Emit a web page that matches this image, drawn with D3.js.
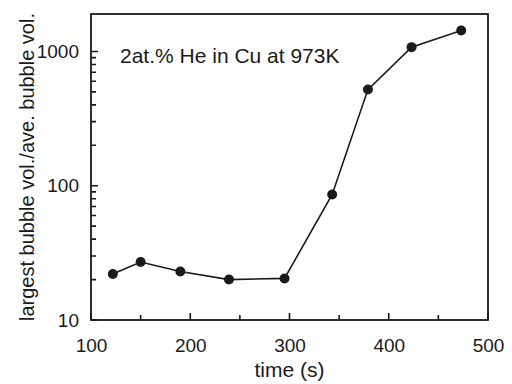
<!DOCTYPE html>
<html>
<head>
<meta charset="utf-8">
<script src="https://cdn.jsdelivr.net/npm/d3@7"></script>
<style>
  body { margin: 0; background: #fff; }
  svg text { font-family: "Liberation Sans", Arial, sans-serif; fill: #1a1a1a; }
</style>
</head>
<body>
<div class="chartWrapper"></div>
<script>
const width = 512, height = 384;
const margin = { left: 91, right: 24, top: 14, bottom: 64 };

// data
const times = [122, 150, 190, 239, 295, 343, 379, 423, 473];
const ratios = [22, 27, 23, 20, 20.4, 86, 520, 1076, 1430];

const xMajorTicks = [100, 200, 300, 400, 500];
const xMinorTicks = [150, 250, 350, 450];
const yMajorTicks = [10, 100, 1000];
const yMinorTicks = [20, 30, 40, 50, 60, 70, 80, 90, 200, 300, 400, 500, 600, 700, 800, 900];

const annotation = "2at.% He in Cu at 973K";
const xTitle = "time (s)";
const yTitle = "largest bubble vol./ave. bubble vol.";

const svg = d3.select(".chartWrapper").append("svg")
  .attr("width", width)
  .attr("height", height);

const x = d3.scaleLinear().domain([100, 500]).range([margin.left, width - margin.right]);
const y = d3.scaleLog().domain([10, 1900]).range([height - margin.bottom, margin.top]);

const plotBottom = height - margin.bottom;
const stroke = "#1a1a1a";

// tick labels from d3 axes
svg.append("g")
  .attr("transform", `translate(0,${plotBottom})`)
  .call(d3.axisBottom(x).tickValues(xMajorTicks).tickSize(0).tickPadding(19).tickFormat(d3.format("d")))
  .call(g => g.select(".domain").remove())
  .call(g => g.selectAll("text").attr("font-size", 19));

svg.append("g")
  .attr("transform", `translate(${margin.left},0)`)
  .call(d3.axisLeft(y).tickValues(yMajorTicks).tickSize(0).tickPadding(12).tickFormat(d3.format("d")))
  .call(g => g.select(".domain").remove())
  .call(g => g.selectAll("text").attr("font-size", 19));

// inward tick marks
const xTicks = xMajorTicks.map(v => ({ v, len: 7 })).concat(xMinorTicks.map(v => ({ v, len: 5 })));
const yTicks = yMajorTicks.map(v => ({ v, len: 7 })).concat(yMinorTicks.map(v => ({ v, len: 5 })));

const tickPath = d3.path();
xTicks.forEach(d => {
  tickPath.moveTo(x(d.v), plotBottom);
  tickPath.lineTo(x(d.v), plotBottom - d.len);
});
yTicks.forEach(d => {
  tickPath.moveTo(margin.left, y(d.v));
  tickPath.lineTo(margin.left + d.len, y(d.v));
});

svg.append("path")
  .attr("d", tickPath.toString())
  .attr("fill", "none")
  .attr("stroke", stroke)
  .attr("stroke-width", 1.6);

// frame
svg.append("rect")
  .attr("x", margin.left)
  .attr("y", margin.top)
  .attr("width", width - margin.left - margin.right)
  .attr("height", height - margin.top - margin.bottom)
  .attr("fill", "none")
  .attr("stroke", stroke)
  .attr("stroke-width", 1.8);

const points = times.map((t, i) => [t, ratios[i]]);

const line = d3.line()
  .x(d => x(d[0]))
  .y(d => y(d[1]));

svg.append("path")
  .datum(points)
  .attr("d", line)
  .attr("fill", "none")
  .attr("stroke", stroke)
  .attr("stroke-width", 1.6);

svg.selectAll(".dot")
  .data(points)
  .join("circle")
  .attr("class", "dot")
  .attr("cx", d => x(d[0]))
  .attr("cy", d => y(d[1]))
  .attr("r", 5)
  .attr("fill", "#1a1a1a");

svg.append("text")
  .attr("x", 120)
  .attr("y", 63)
  .attr("font-size", 21)
  .text(annotation);

svg.append("text")
  .attr("x", (x.range()[0] + x.range()[1]) / 2)
  .attr("y", 377)
  .attr("text-anchor", "middle")
  .attr("font-size", 21)
  .text(xTitle);

svg.append("text")
  .attr("transform", `translate(34,${(margin.top + plotBottom) / 2}) rotate(-90)`)
  .attr("text-anchor", "middle")
  .attr("font-size", 20)
  .text(yTitle);
</script>
</body>
</html>
